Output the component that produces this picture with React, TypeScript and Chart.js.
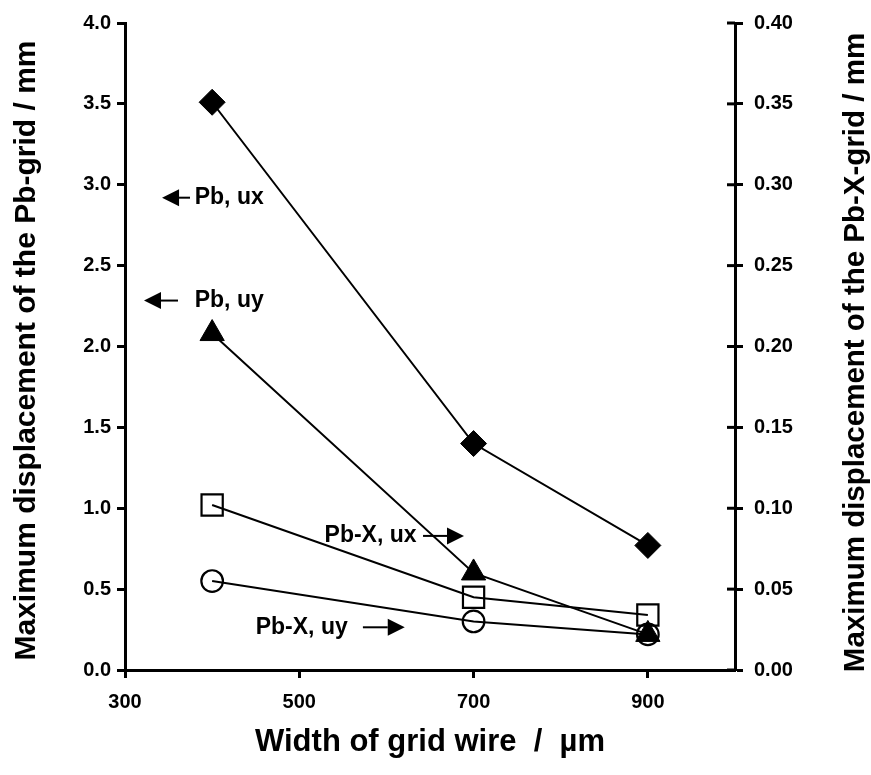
import React, { useEffect, useRef } from "react";
import { Chart, registerables } from "chart.js";

Chart.register(...registerables);

// ---- data ----
const wireWidths = [400, 700, 900];
const pbUx = [3.51, 1.4, 0.77];
const pbUy = [2.08, 0.6, 0.22];
const pbxUx = [0.102, 0.045, 0.034];
const pbxUy = [0.055, 0.03, 0.022];

const xTickValues = [300, 500, 700, 900];
const xTitle = "Width of grid wire  /  µm";
const yLeftTitle = "Maximum displacement of the Pb-grid / mm";
const yRightTitle = "Maximum displacement of the Pb-X-grid / mm";

// annotation labels: text, text start x, y (left axis), arrow start x, arrow tip x
const annoLabels = ["Pb, ux", "Pb, uy", "Pb-X, ux", "Pb-X, uy"];
const annoTextX = [380, 380, 529, 450];
const annoY = [2.92, 2.284, 0.829, 0.264];
const annoArrowFrom = [374.6, 360.8, 642, 573];
const annoArrowTip = [342.5, 321.8, 689, 621];

const FONT = "'Liberation Sans', Arial, Helvetica, sans-serif";

const pts = (ys: number[]) => wireWidths.map((x, i) => ({ x, y: ys[i] }));

const extrasPlugin = {
  id: "extras",
  afterDraw(chart: any) {
    const ctx = chart.ctx;
    const xs = chart.scales.x;
    const yl = chart.scales.y;
    const yr = chart.scales.y2;
    const area = chart.chartArea;
    ctx.save();
    // inward ticks on right axis
    ctx.strokeStyle = "#000";
    ctx.lineWidth = 3;
    yr.ticks.forEach((t: any) => {
      const py = yr.getPixelForValue(t.value);
      ctx.beginPath();
      ctx.moveTo(area.right - 8, py);
      ctx.lineTo(area.right, py);
      ctx.stroke();
    });
    // annotations
    ctx.fillStyle = "#000";
    ctx.font = `bold 23px ${FONT}`;
    ctx.textBaseline = "middle";
    ctx.textAlign = "left";
    annoLabels.forEach((label, i) => {
      const py = yl.getPixelForValue(annoY[i]);
      ctx.fillText(label, xs.getPixelForValue(annoTextX[i]), py);
      const fx = xs.getPixelForValue(annoArrowFrom[i]);
      const tx = xs.getPixelForValue(annoArrowTip[i]);
      const dir = tx > fx ? 1 : -1;
      const headLen = 17;
      const headHalf = 8.5;
      ctx.lineWidth = 2;
      ctx.beginPath();
      ctx.moveTo(fx, py);
      ctx.lineTo(tx - dir * headLen, py);
      ctx.stroke();
      ctx.beginPath();
      ctx.moveTo(tx, py);
      ctx.lineTo(tx - dir * headLen, py - headHalf);
      ctx.lineTo(tx - dir * headLen, py + headHalf);
      ctx.closePath();
      ctx.fill();
    });
    // titles
    ctx.textAlign = "center";
    ctx.textBaseline = "middle";
    ctx.font = `bold 31px ${FONT}`;
    ctx.fillText(xTitle, (area.left + area.right) / 2, 742);
    const cy = (area.top + area.bottom) / 2;
    ctx.save();
    ctx.font = `bold 30px ${FONT}`;
    ctx.translate(27, cy + 4);
    ctx.rotate(-Math.PI / 2);
    ctx.fillText(yLeftTitle, 0, 0);
    ctx.restore();
    ctx.save();
    ctx.font = `bold 29.5px ${FONT}`;
    ctx.translate(856, cy + 6);
    ctx.rotate(-Math.PI / 2);
    ctx.fillText(yRightTitle, 0, 0);
    ctx.restore();
    ctx.restore();
  },
};

export default function App() {
  const ref = useRef<HTMLCanvasElement>(null);
  useEffect(() => {
    if (!ref.current) return;
    const tickFont = { family: FONT, size: 20, weight: "bold" as const };
    const gridCfg = { drawOnChartArea: false, drawTicks: true, tickLength: 8, tickWidth: 3, tickColor: "#000", color: "#000" };
    const chart = new Chart(ref.current, {
      type: "line",
      data: {
        datasets: [
          {
            label: "Pb, ux",
            data: pts(pbUx),
            yAxisID: "y",
            borderColor: "#000",
            borderWidth: 2,
            pointStyle: "rectRot",
            pointRadius: 13,
            pointBackgroundColor: "#000",
            pointBorderColor: "#000",
            pointBorderWidth: 1,
          },
          {
            label: "Pb, uy",
            data: pts(pbUy),
            yAxisID: "y",
            borderColor: "#000",
            borderWidth: 2,
            pointStyle: "triangle",
            pointRadius: 14,
            pointBackgroundColor: "#000",
            pointBorderColor: "#000",
            pointBorderWidth: 1,
          },
          {
            label: "Pb-X, ux",
            data: pts(pbxUx),
            yAxisID: "y2",
            borderColor: "#000",
            borderWidth: 2,
            pointStyle: "rect",
            pointRadius: 15,
            pointBackgroundColor: "rgba(0,0,0,0)",
            pointBorderColor: "#000",
            pointBorderWidth: 2.2,
          },
          {
            label: "Pb-X, uy",
            data: pts(pbxUy),
            yAxisID: "y2",
            borderColor: "#000",
            borderWidth: 2,
            pointStyle: "circle",
            pointRadius: 10.8,
            pointBackgroundColor: "rgba(0,0,0,0)",
            pointBorderColor: "#000",
            pointBorderWidth: 2.2,
          },
        ],
      },
      options: {
        animation: false,
        responsive: false,
        devicePixelRatio: 1,
        layout: { padding: { top: 18.6, left: 0, right: 0, bottom: 0 } },
        plugins: { legend: { display: false }, tooltip: { enabled: false } },
        scales: {
          x: {
            type: "linear",
            min: 300,
            max: 1000,
            afterBuildTicks: (s: any) => {
              s.ticks = xTickValues.map((v) => ({ value: v }));
            },
            afterFit: (s: any) => {
              s.height = 105;
            },
            border: { display: true, color: "#000", width: 3 },
            grid: gridCfg,
            ticks: { color: "#000", font: tickFont, padding: 12, maxRotation: 0 },
          },
          y: {
            type: "linear",
            position: "left",
            min: 0,
            max: 4,
            afterFit: (s: any) => {
              s.width = 125;
            },
            border: { display: true, color: "#000", width: 3 },
            grid: gridCfg,
            ticks: { stepSize: 0.5, color: "#000", font: tickFont, padding: 6, callback: (v: any) => Number(v).toFixed(1) },
          },
          y2: {
            type: "linear",
            position: "right",
            min: 0,
            max: 0.4,
            afterFit: (s: any) => {
              s.width = 136;
            },
            border: { display: true, color: "#000", width: 3 },
            grid: gridCfg,
            ticks: { stepSize: 0.05, color: "#000", font: tickFont, padding: 11, callback: (v: any) => Number(v).toFixed(2) },
          },
        },
      },
      plugins: [extrasPlugin],
    });
    return () => chart.destroy();
  }, []);
  return (
    <div style={{ position: "absolute", left: 0, top: 0, width: 871, height: 775, background: "#fff" }}>
      <canvas ref={ref} width={871} height={775} />
    </div>
  );
}
